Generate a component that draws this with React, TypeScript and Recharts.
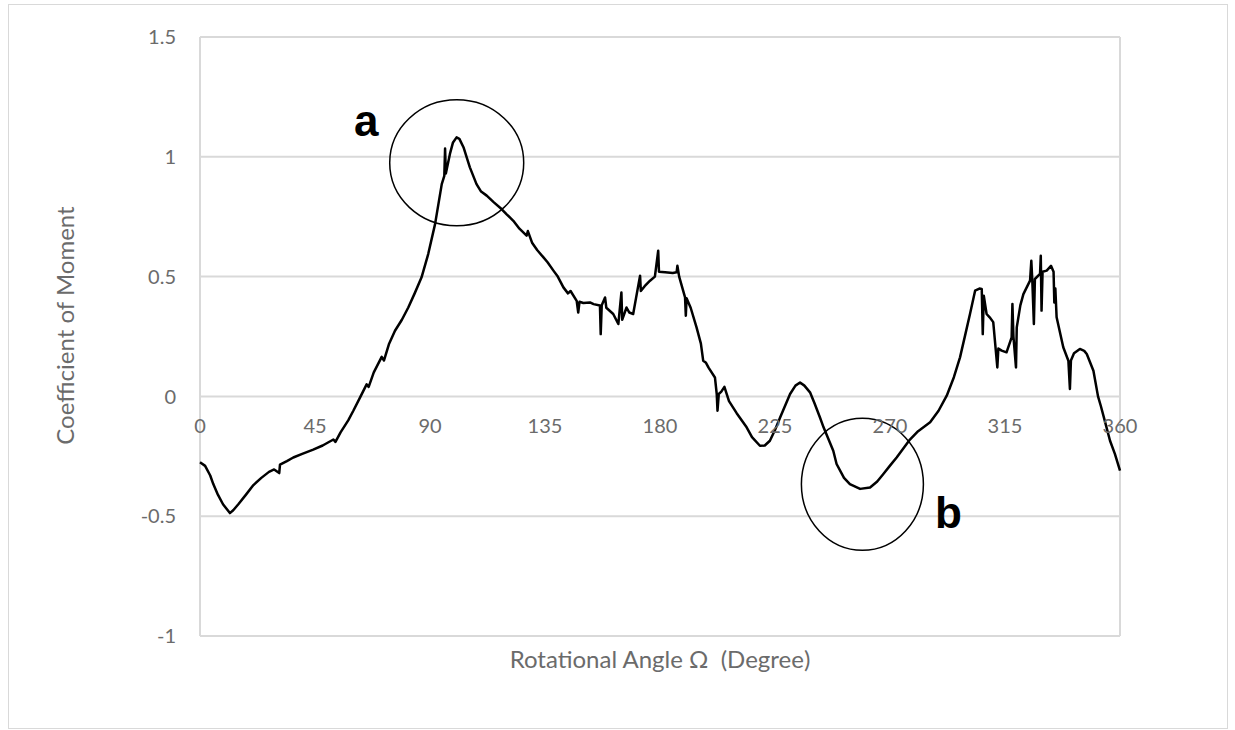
import React from 'react';
import {
  LineChart,
  Line,
  XAxis,
  YAxis,
  CartesianGrid,
  ReferenceDot,
} from 'recharts';

// rotational angle (degree) and moment coefficient, read point by point
const angles = [
  0, 2, 4, 5.2, 7, 9, 11.7, 13, 15, 18, 20.9, 24, 27, 29, 31, 31.3, 34, 36.5, 40, 44.3,
  48, 52.2, 53, 55, 58, 60, 62.6, 65.2, 66, 68, 71.1, 72, 74, 76.3, 79, 81.5, 84, 86.7, 89.3, 92,
  94.6, 95.6, 95.9, 96.2, 97.8, 99, 100.4, 101.5, 103.1, 105.6, 108.2, 110, 112.2, 115, 118, 120, 122.6, 125, 127.8, 128.3,
  130, 132, 134.4, 136, 138.3, 140, 142.2, 144, 145, 147.4, 148, 148.5, 150, 152.6, 154, 156.5, 156.8, 157.2, 158.5, 159,
  161.7, 163.7, 164.9, 165.2, 166.9, 168, 169.5, 172.2, 172.5, 174, 176.1, 178, 179.3, 179.6, 182, 185, 186.5, 186.8, 187.5, 189.8,
  190.1, 190.4, 192, 194.3, 196, 196.9, 198, 199, 201.5, 202.2, 202.5, 203, 204, 205.2, 207, 210, 213.9, 216, 219.1, 221,
  223, 225, 227, 230.9, 233, 234.8, 236.5, 238.7, 240.5, 242.6, 244, 247.8, 249.1, 252, 254.3, 258.3, 262.2, 265, 267.4, 270,
  272.6, 277.8, 281, 285.7, 289, 292.2, 295, 297.4, 299.5, 301.3, 303.3, 305, 305.9, 306.3, 306.7, 307.8, 309, 310.4, 312, 312.4,
  313.7, 315.6, 317.6, 317.9, 318.3, 319.3, 319.6, 321, 322.2, 324.8, 325.3, 325.7, 326.3, 326.7, 328.7, 329, 329.3, 329.7, 331.3, 333,
  334, 334.3, 334.7, 335.2, 337.8, 339.8, 340.4, 340.8, 342, 344.3, 346, 347, 349.6, 351.4, 352.5, 354, 356.1, 358, 360,
];

const moments = [
  -0.275, -0.29, -0.33, -0.366, -0.41, -0.45, -0.487, -0.475, -0.45, -0.41, -0.37, -0.34, -0.315, -0.305, -0.32, -0.285, -0.27, -0.255, -0.24, -0.222,
  -0.205, -0.18, -0.19, -0.15, -0.1, -0.06, -0.005, 0.05, 0.04, 0.1, 0.165, 0.15, 0.22, 0.274, 0.32, 0.371, 0.43, 0.497, 0.594, 0.72,
  0.886, 0.92, 1.035, 0.93, 1.012, 1.06, 1.081, 1.075, 1.04, 0.956, 0.886, 0.855, 0.838, 0.81, 0.782, 0.76, 0.733, 0.7, 0.671, 0.69,
  0.64, 0.61, 0.58, 0.56, 0.525, 0.5, 0.455, 0.43, 0.44, 0.399, 0.35, 0.395, 0.39, 0.392, 0.385, 0.379, 0.26, 0.38, 0.413, 0.37,
  0.344, 0.302, 0.434, 0.32, 0.371, 0.35, 0.344, 0.504, 0.44, 0.46, 0.483, 0.5, 0.608, 0.52, 0.518, 0.515, 0.518, 0.545, 0.5, 0.413,
  0.337, 0.41, 0.37, 0.288, 0.22, 0.149, 0.14, 0.12, 0.079, 0.01, -0.06, 0.01, 0.02, 0.04, -0.02, -0.07, -0.129, -0.17, -0.206, -0.205,
  -0.185, -0.14, -0.088, 0.01, 0.045, 0.058, 0.045, 0.017, -0.03, -0.088, -0.129, -0.227, -0.282, -0.34, -0.366, -0.386, -0.38, -0.355, -0.324, -0.289,
  -0.255, -0.18, -0.145, -0.108, -0.06, 0.003, 0.08, 0.163, 0.26, 0.344, 0.441, 0.45, 0.448, 0.26, 0.42, 0.344, 0.33, 0.31, 0.121, 0.2,
  0.191, 0.184, 0.246, 0.386, 0.25, 0.121, 0.288, 0.38, 0.427, 0.483, 0.566, 0.48, 0.302, 0.49, 0.511, 0.587, 0.358, 0.52, 0.525, 0.545,
  0.52, 0.392, 0.45, 0.33, 0.205, 0.149, 0.031, 0.15, 0.18, 0.198, 0.19, 0.177, 0.107, 0.0, -0.04, -0.1, -0.185, -0.24, -0.31,
];

const xTicks = [0, 45, 90, 135, 180, 225, 270, 315, 360];
const yTicks = [-1, -0.5, 0, 0.5, 1, 1.5];

// circled regions and their letters
const marks = [
  { id: 'a', cx: 100.45, cy: 0.975, rx: 67, ry: 63, tx: 65.1, ty: 1.088 },
  { id: 'b', cx: 259.2, cy: -0.367, rx: 61, ry: 66, tx: 292.9, ty: -0.548 },
];

const data = angles.map((a, i) => ({ angle: a, cm: moments[i] }));

const GRAY = '#6b6b6b';
const FONT = 'Lato, "Open Sans", sans-serif';

const YTitle = (props: any) => {
  const vb = props.viewBox;
  const x = vb.x + 24;
  const y = vb.y + vb.height / 2 - 11;
  return (
    <text
      x={x}
      y={y}
      transform={`rotate(-90, ${x}, ${y})`}
      textAnchor="middle"
      fill={GRAY}
      fontSize={24}
      fontFamily={FONT}
    >
      Coefficient of Moment
    </text>
  );
};

export default function App() {
  return (
    <div style={{ position: 'absolute', left: 0, top: 0, width: 1235, height: 730, background: '#fff' }}>
      <div
        style={{
          position: 'absolute',
          left: 8,
          top: 4,
          width: 1218,
          height: 723,
          border: '1px solid #d9d9d9',
        }}
      />
      <LineChart
        width={1235}
        height={730}
        data={data}
        margin={{ top: 37, right: 115, bottom: 48, left: 50 }}
        style={{ position: 'absolute', left: 0, top: 0 }}
      >
        <CartesianGrid stroke="#d9d9d9" strokeWidth={2} />
        <XAxis
          type="number"
          dataKey="angle"
          domain={[0, 360]}
          ticks={xTicks}
          tick={false}
          axisLine={false}
          tickLine={false}
          height={46}
          label={{
            value: 'Rotational Angle Ω\u00a0 (Degree)',
            position: 'center',
            fill: GRAY,
            fontSize: 24,
            fontFamily: FONT,
          }}
        />
        <YAxis
          type="number"
          domain={[-1, 1.5]}
          ticks={yTicks}
          width={150}
          axisLine={false}
          tickLine={false}
          tickSize={0}
          tickMargin={24}
          tick={{ fill: GRAY, fontSize: 20, fontFamily: FONT }}
          label={<YTitle />}
        />
        {xTicks.map((t) => (
          <ReferenceDot
            key={`xt-${t}`}
            x={t}
            y={0}
            r={0}
            fill="none"
            stroke="none"
            label={{ value: String(t), position: 'bottom', offset: 22, fill: GRAY, fontSize: 20, fontFamily: FONT }}
          />
        ))}
        <Line
          type="linear"
          dataKey="cm"
          stroke="#000"
          strokeWidth={2.5}
          strokeLinejoin="round"
          dot={false}
          isAnimationActive={false}
        />
        {marks.map((m) => (
          <ReferenceDot
            key={`ring-${m.id}`}
            x={m.cx}
            y={m.cy}
            shape={(p: any) => (
              <ellipse cx={p.cx} cy={p.cy} rx={m.rx} ry={m.ry} fill="none" stroke="#000" strokeWidth={1.5} />
            )}
          />
        ))}
        {marks.map((m) => (
          <ReferenceDot
            key={`tag-${m.id}`}
            x={m.tx}
            y={m.ty}
            shape={(p: any) => (
              <text
                x={p.cx}
                y={p.cy}
                textAnchor="middle"
                fontSize={44}
                fontWeight="bold"
                fontFamily='"Liberation Sans", Arial, sans-serif'
                fill="#000"
              >
                {m.id}
              </text>
            )}
          />
        ))}
      </LineChart>
    </div>
  );
}
